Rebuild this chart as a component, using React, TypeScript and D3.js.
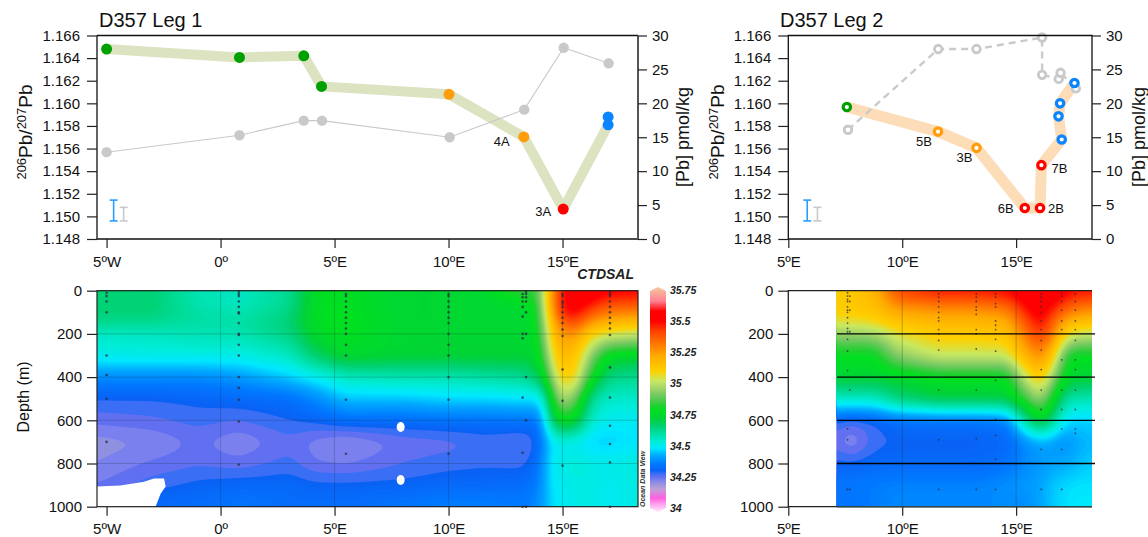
import React, { useEffect, useRef } from 'react';
import * as d3 from 'd3';

// ---- top panels, leg 1
const leg1Lon = [-5, 0.83, 3.65, 4.43, 10.02, 13.3, 15.03, 17.0, 17.0];
const leg1Ratio = [1.1648, 1.16406, 1.1642, 1.1615, 1.1608, 1.15703, 1.15065, 1.1581, 1.1588];
const leg1Group = ['g', 'g', 'g', 'g', 'o', 'o', 'r', 'b', 'b'];
const leg1PbLon = [-5, 0.83, 3.65, 4.45, 10.05, 13.32, 15.05, 17.02];
const leg1Pb = [12.8, 15.3, 17.45, 17.45, 15.0, 19.07, 28.2, 25.9];

// ---- top panels, leg 2
const leg2Lon = [7.57, 11.57, 13.26, 15.38, 16.05, 16.11, 17.0, 16.86, 16.93, 17.56];
const leg2Ratio = [1.15967, 1.1575, 1.15606, 1.15074, 1.15074, 1.15453, 1.1568, 1.15885, 1.16, 1.1618];
const leg2Group = ['g', 'o', 'o', 'r', 'r', 'r', 'b', 'b', 'b', 'b'];
const leg2PbLon = [7.62, 11.58, 13.26, 16.14, 16.14, 16.87, 16.95, 17.62];
const leg2Pb = [16.1, 28.0, 28.0, 29.7, 24.2, 23.6, 24.5, 22.2];

const pointLabels1 = [{ i: 5, t: '4A' }, { i: 6, t: '3A' }];
const pointLabels2 = [{ i: 1, t: '5B' }, { i: 2, t: '3B' }, { i: 3, t: '6B' }, { i: 4, t: '2B' }, { i: 5, t: '7B' }];

// error bars, in ratio units
const errBlue = [1.1496, 1.15144];
const errGray = [1.1496, 1.1508];

const ratioTicks = [1.148, 1.15, 1.152, 1.154, 1.156, 1.158, 1.16, 1.162, 1.164, 1.166];
const pbTicks = [0, 5, 10, 15, 20, 25, 30];
const depthTicks = [0, 200, 400, 600, 800, 1000];
const lonTicks1 = [-5, 0, 5, 10, 15];
const lonTicks2 = [5, 10, 15];
const lonNames: Record<number, string> = { [-5]: '5ºW', 0: '0º', 5: '5ºE', 10: '10ºE', 15: '15ºE' };

// ---- salinity sections
const depths = [0, 50, 100, 150, 200, 300, 400, 500, 600, 700, 800, 900, 1000];
const sectionLon1 = [-5.42, -3, -1, 0.8, 3, 4.2, 5.5, 8, 10, 11.6, 13.3, 13.9, 14.3, 14.6, 15, 15.6, 16.2, 17, 18.31];
const section1 = [
  [34.66, 34.66, 34.58, 34.56, 34.62, 34.78, 34.78, 34.74, 34.74, 34.76, 34.88, 34.82, 35.1, 35.3, 35.5, 35.56, 35.56, 35.54, 35.52],
  [34.66, 34.66, 34.58, 34.56, 34.62, 34.78, 34.78, 34.74, 34.74, 34.74, 34.76, 34.8, 35.1, 35.3, 35.52, 35.56, 35.52, 35.42, 35.42],
  [34.66, 34.66, 34.6, 34.58, 34.64, 34.78, 34.78, 34.74, 34.74, 34.74, 34.74, 34.78, 35.05, 35.28, 35.5, 35.52, 35.4, 35.32, 35.3],
  [34.63, 34.62, 34.6, 34.6, 34.66, 34.78, 34.8, 34.74, 34.74, 34.74, 34.74, 34.78, 35.02, 35.22, 35.35, 35.42, 35.25, 35.18, 35.15],
  [34.55, 34.56, 34.58, 34.58, 34.64, 34.76, 34.78, 34.74, 34.74, 34.74, 34.74, 34.76, 34.98, 35.18, 35.28, 35.25, 35.1, 35.05, 35.02],
  [34.52, 34.52, 34.52, 34.52, 34.56, 34.68, 34.76, 34.74, 34.74, 34.74, 34.74, 34.74, 34.9, 35.12, 35.18, 35.14, 34.95, 34.76, 34.74],
  [34.38, 34.38, 34.38, 34.4, 34.46, 34.5, 34.56, 34.58, 34.58, 34.6, 34.62, 34.68, 34.78, 35.02, 35.12, 35.1, 34.82, 34.64, 34.62],
  [34.3, 34.3, 34.31, 34.32, 34.33, 34.38, 34.45, 34.45, 34.47, 34.47, 34.48, 34.47, 34.55, 34.9, 34.99, 34.92, 34.62, 34.55, 34.55],
  [34.26, 34.27, 34.285, 34.275, 34.3, 34.31, 34.335, 34.33, 34.34, 34.34, 34.35, 34.33, 34.5, 34.72, 34.8, 34.75, 34.55, 34.5, 34.5],
  [34.21, 34.225, 34.255, 34.225, 34.265, 34.235, 34.215, 34.255, 34.262, 34.28, 34.262, 34.3, 34.42, 34.5, 34.5, 34.5, 34.46, 34.46, 34.48],
  [34.225, 34.255, 34.27, 34.26, 34.285, 34.25, 34.245, 34.275, 34.29, 34.295, 34.29, 34.33, 34.44, 34.52, 34.52, 34.54, 34.52, 34.52, 34.53],
  [34.25, 34.29, 34.31, 34.32, 34.32, 34.31, 34.31, 34.31, 34.32, 34.32, 34.33, 34.35, 34.44, 34.5, 34.5, 34.52, 34.52, 34.5, 34.52],
  [34.3, 34.33, 34.33, 34.35, 34.33, 34.33, 34.33, 34.35, 34.37, 34.37, 34.36, 34.38, 34.44, 34.48, 34.5, 34.52, 34.52, 34.5, 34.52],
];
const sectionLon2 = [7.13, 7.7, 8.8, 9.8, 11.6, 13.3, 14.6, 15.4, 16.1, 16.7, 17.2, 17.6, 18.33];
const section2 = [
  [35.12, 35.12, 35.2, 35.42, 35.5, 35.5, 35.52, 35.56, 35.56, 35.56, 35.55, 35.5, 35.5],
  [35.12, 35.12, 35.16, 35.32, 35.36, 35.36, 35.4, 35.54, 35.56, 35.52, 35.42, 35.4, 35.38],
  [35.12, 35.12, 35.15, 35.22, 35.25, 35.25, 35.28, 35.46, 35.56, 35.42, 35.35, 35.28, 35.25],
  [35.05, 35.05, 35.08, 35.14, 35.18, 35.18, 35.2, 35.38, 35.52, 35.32, 35.18, 35.16, 35.14],
  [34.95, 34.95, 34.96, 35.06, 35.12, 35.12, 35.14, 35.32, 35.46, 35.28, 35.08, 35.04, 35.02],
  [34.78, 34.78, 34.78, 34.94, 35.03, 35.03, 35.03, 35.2, 35.3, 35.1, 34.8, 34.78, 34.78],
  [34.74, 34.74, 34.74, 34.74, 34.78, 34.78, 34.78, 35.02, 35.15, 34.92, 34.76, 34.74, 34.74],
  [34.56, 34.56, 34.56, 34.66, 34.72, 34.72, 34.72, 34.85, 34.98, 34.76, 34.6, 34.58, 34.58],
  [34.3, 34.28, 34.3, 34.33, 34.34, 34.34, 34.36, 34.6, 34.78, 34.6, 34.47, 34.46, 34.46],
  [34.265, 34.21, 34.29, 34.3, 34.3, 34.3, 34.31, 34.38, 34.42, 34.4, 34.38, 34.42, 34.44],
  [34.31, 34.31, 34.32, 34.32, 34.32, 34.32, 34.34, 34.38, 34.4, 34.42, 34.42, 34.44, 34.46],
  [34.35, 34.35, 34.36, 34.37, 34.37, 34.37, 34.39, 34.4, 34.42, 34.46, 34.47, 34.48, 34.48],
  [34.34, 34.34, 34.36, 34.38, 34.38, 34.38, 34.38, 34.38, 34.42, 34.46, 34.48, 34.49, 34.49],
];

// bottle samples, [lon, depths]
const samples1: [number, number[]][] = [
  [-5, [10, 25, 50, 100, 300, 390, 500, 700]],
  [0.8, [5, 15, 25, 50, 75, 100, 105, 150, 200, 205, 250, 300, 400, 450, 505, 605, 805]],
  [5.5, [15, 25, 50, 75, 100, 125, 150, 175, 200, 250, 300, 505, 755]],
  [10, [15, 25, 50, 75, 100, 125, 150, 200, 250, 300, 400, 505, 755]],
  [13.25, [15, 30, 50, 75, 120, 200, 220, 495, 750, 1000]],
  [13.4, [5, 15, 30, 50, 100, 200, 400, 600, 1000]],
  [15, [15, 25, 50, 60, 75, 100, 125, 150, 180, 210, 365, 510, 810]],
  [17.08, [5, 15, 25, 50, 75, 100, 125, 150, 175, 205, 355, 495, 625, 710, 795, 1000]],
];
const samples2: [number, number[]][] = [
  [7.6, [10, 25, 40, 50, 75, 90, 100, 125, 150, 175, 190, 225, 280, 370, 640, 690, 920]],
  [7.7, [25, 50, 90, 190, 460, 920]],
  [11.6, [15, 30, 50, 75, 100, 125, 140, 180, 200, 230, 275, 460, 690, 920]],
  [13.25, [15, 30, 50, 75, 90, 110, 180, 200, 270, 460, 685, 920]],
  [14.1, [15, 30, 60, 75, 140, 160, 180, 225, 280, 415, 595, 670, 780, 920]],
  [16.1, [15, 30, 50, 75, 100, 140, 180, 230, 275, 365, 460, 550, 735, 920]],
  [17.0, [10, 25, 50, 90, 140, 180, 320, 460, 550, 640, 735, 920]],
  [17.6, [15, 50, 90, 140, 180, 230, 320, 365, 460, 550, 640, 660]],
];

// no-data patch at the bottom left of leg 1
const holeLon = [-5.42, -4.39, -3.36, -2.92, -2.48, -2.41, -2.63, -2.85, -5.42];
const holeDepth = [907, 902, 884, 869, 869, 907, 940, 1000, 1000];
const gapLon = [7.9, 7.9];
const gapDepth = [631, 876];

// Ocean Data View colour bar
const cbarValues = [33.97, 34.02, 34.08, 34.15, 34.2, 34.225, 34.25, 34.275, 34.3, 34.35, 34.42, 34.48, 34.53, 34.6, 34.66, 34.72, 34.78, 34.82, 34.9, 34.97, 35.02, 35.1, 35.22, 35.3, 35.42, 35.5, 35.58, 35.66, 35.78];
const cbarColors = ['#ffe6fa', '#ffb0f0', '#ff60e0', '#c0a0d8', '#9090e0', '#7a80ee', '#6070f0', '#3a6ef5', '#0a62f5', '#0078ff', '#00a8ff', '#00e8ff', '#00ecd8', '#00dea0', '#00d070', '#00d238', '#00e020', '#20d030', '#70c860', '#a8d868', '#c8e860', '#ffd000', '#ffaa00', '#ff8000', '#ff4000', '#ff0000', '#ff0000', '#ff8090', '#f8c8a0'];
const cbarTicks = [34, 34.25, 34.5, 34.75, 35, 35.25, 35.5, 35.75];

const groupColor: Record<string, string> = { g: '#00a000', o: '#ff9d0a', r: '#ff0000', b: '#0a84ff' };
const GRAY = '#c9c9c9';
const FONT = '"Liberation Sans", Arial, sans-serif';

const salColor = d3.scaleLinear<string>().domain(cbarValues).range(cbarColors).clamp(true);

function Axis({ axis, at }: { axis: any; at: [number, number] }) {
  const ref = useRef<SVGGElement>(null);
  useEffect(() => {
    const g = d3.select(ref.current);
    g.call(axis);
    g.attr('font-family', FONT).attr('font-size', 15);
    g.select('.domain').remove();
    g.selectAll('.tick line').attr('stroke', '#222').attr('stroke-width', 1.2);
    g.selectAll('.tick text').attr('fill', '#111');
  }, [axis]);
  return <g ref={ref} transform={`translate(${at[0]},${at[1]})`} />;
}

function Section({ lons, values, x, y, id }: any) {
  const ref = useRef<SVGGElement>(null);
  const xs = x(lons[0]);
  const xe = x(lons[lons.length - 1]);
  const [y0, y1] = y.range();
  useEffect(() => {
    const step = 2;
    const w = Math.ceil((xe - xs) / step) + 1;
    const h = Math.ceil((y1 - y0) / step) + 1;
    const iLon = d3.scaleLinear().domain(lons).range(lons.map((_: any, i: number) => i)).clamp(true);
    const iDep = d3.scaleLinear().domain(depths).range(depths.map((_, i) => i)).clamp(true);
    const grid = new Float64Array(w * h);
    for (let r = 0; r < h; r++) {
      const fy = iDep(y.invert(y0 + r * step));
      const jy = Math.min(Math.floor(fy), depths.length - 2);
      const ty = fy - jy;
      for (let c = 0; c < w; c++) {
        const fx = iLon(x.invert(xs + c * step));
        const jx = Math.min(Math.floor(fx), lons.length - 2);
        const tx = fx - jx;
        const top = values[jy][jx] * (1 - tx) + values[jy][jx + 1] * tx;
        const bot = values[jy + 1][jx] * (1 - tx) + values[jy + 1][jx + 1] * tx;
        grid[r * w + c] = top * (1 - ty) + bot * ty;
      }
    }
    d3.blur2({ data: grid, width: w, height: h }, 2.5);
    // the purple end of the ODV field shows as bands, the rest is smooth
    const levels = d3.range(33.95, 34.3, 0.025).concat(d3.range(34.3, 35.7, 0.008));
    const contours = d3.contours().size([w, h]).smooth(true).thresholds(levels)(grid as any);
    const g = d3.select(ref.current);
    g.attr('transform', `translate(${xs - step / 2},${y0 - step / 2}) scale(${step})`);
    g.selectAll('path')
      .data(contours)
      .join('path')
      .attr('d', d3.geoPath() as any)
      .attr('fill', (d: any) => salColor(d.value));
  }, [lons, values, x, y]);
  return (
    <>
      <clipPath id={id}>
        <rect x={xs} y={y0} width={xe - xs} height={y1 - y0} />
      </clipPath>
      <g clipPath={`url(#${id})`}>
        <g ref={ref} />
      </g>
    </>
  );
}

function Dots({ data, x, y, r }: any) {
  return (
    <g fill="#2b2b40" fillOpacity={0.75}>
      {data.flatMap(([lon, ds]: [number, number[]]) =>
        ds.map((d, i) => <circle key={lon + '-' + i} cx={x(lon)} cy={y(d)} r={r} />)
      )}
    </g>
  );
}

function ErrBar({ x, y, lon, range, color }: any) {
  const px = x(lon);
  return (
    <g stroke={color} strokeWidth={1.6} fill="none">
      <line x1={px} x2={px} y1={y(range[0])} y2={y(range[1])} />
      <line x1={px - 4} x2={px + 4} y1={y(range[0])} y2={y(range[0])} />
      <line x1={px - 4} x2={px + 4} y1={y(range[1])} y2={y(range[1])} />
    </g>
  );
}

function RatioLabel({ x, y }: { x: number; y: number }) {
  return (
    <text transform={`translate(${x},${y}) rotate(-90)`} textAnchor="middle" fontSize={19} fill="#111">
      <tspan fontSize={13} dy={-6}>206</tspan>
      <tspan dy={6}>Pb/</tspan>
      <tspan fontSize={13} dy={-6}>207</tspan>
      <tspan dy={6}>Pb</tspan>
    </text>
  );
}

function App() {
  const H_TOP = [239, 35.5];
  const H_BOT = [290.7, 506.7];
  const ratioY = d3.scaleLinear().domain([1.148, 1.166]).range(H_TOP);
  const pbY = d3.scaleLinear().domain([0, 30]).range(H_TOP);
  const depthY = d3.scaleLinear().domain([0, 1000]).range(H_BOT);
  const x1 = d3.scaleLinear().domain([-5.42, 18.31]).range([97, 638]);
  const x2 = d3.scaleLinear().domain([5, 18.33]).range([788.3, 1092]);
  const cbarY = d3.scaleLinear().domain([34, 35.75]).range([508, 290]);

  const line = d3.line<[number, number]>();
  const pts = (xs: number[], ys: number[], sx: any, sy: any) =>
    xs.map((v, i) => [sx(v), sy(ys[i])] as [number, number]);

  const lonFmt = (d: any) => lonNames[d];
  const ratioAxis = () =>
    d3.axisLeft(ratioY).tickValues(ratioTicks).tickFormat(d3.format('.3f') as any).tickSize(10).tickPadding(7);
  const depthAxis = () =>
    d3.axisLeft(depthY).tickValues(depthTicks).tickFormat(d3.format('d') as any).tickSize(10).tickPadding(5);
  const pbAxis = () => d3.axisRight(pbY).tickValues(pbTicks).tickSize(9).tickPadding(5);
  const lonAxis = (sx: any, ticks: number[]) =>
    d3.axisBottom(sx).tickValues(ticks).tickFormat(lonFmt).tickSize(9).tickPadding(8);

  const grat = [200, 400, 600, 800];
  const stops = cbarValues.map((v, i) => ({
    off: (cbarY(v) - 287) / (512 - 287),
    c: cbarColors[i],
  })).reverse();

  const labelOffset1: Record<string, [number, number]> = { '4A': [-22, 9], '3A': [-20, 7] };
  const labelOffset2: Record<string, [number, number]> = {
    '5B': [-14, 14], '3B': [-12, 14], '6B': [-19, 5], '2B': [16, 5], '7B': [18, 8],
  };

  return (
    <svg width={1148} height={537} style={{ position: 'absolute', left: 0, top: 0 }} fontFamily={FONT}>
      <rect width={1148} height={537} fill="#fff" />

      {/* Leg 1 top */}
      <text x={99} y={27} fontSize={20} fill="#111">D357 Leg 1</text>
      <path d={line(pts(leg1Lon.slice(0, 8), leg1Ratio.slice(0, 8), x1, ratioY))!} fill="none" stroke="#dce3c1" strokeWidth={10} strokeLinejoin="bevel" />
      <path d={line(pts(leg1PbLon, leg1Pb, x1, pbY))!} fill="none" stroke={GRAY} strokeWidth={1.1} />
      {leg1PbLon.map((v, i) => <circle key={i} cx={x1(v)} cy={pbY(leg1Pb[i])} r={5.2} fill={GRAY} />)}
      {leg1Lon.map((v, i) => <circle key={i} cx={x1(v)} cy={ratioY(leg1Ratio[i])} r={5.5} fill={groupColor[leg1Group[i]]} />)}
      {pointLabels1.map((l) => (
        <text key={l.t} x={x1(leg1Lon[l.i]) + labelOffset1[l.t][0]} y={ratioY(leg1Ratio[l.i]) + labelOffset1[l.t][1]} fontSize={13} textAnchor="middle" fill="#111">{l.t}</text>
      ))}
      <ErrBar x={x1} y={ratioY} lon={-4.69} range={errBlue} color="#2a9dff" />
      <ErrBar x={x1} y={ratioY} lon={-4.25} range={errGray} color={GRAY} />
      <path d="M97,35.5H638M97,35.5V239H638" fill="none" stroke="#111" strokeWidth={1.3} />
      <line x1={638} x2={638} y1={35.5} y2={239} stroke="#555" strokeWidth={2} />
      <Axis axis={ratioAxis()} at={[97, 0]} />
      <Axis axis={pbAxis()} at={[638, 0]} />
      <Axis axis={lonAxis(x1, lonTicks1)} at={[0, 239]} />
      <RatioLabel x={32} y={132} />
      <text transform="translate(689,137) rotate(-90)" textAnchor="middle" fontSize={18} fill="#111">[Pb] pmol/kg</text>

      {/* Leg 2 top */}
      <text x={780} y={27} fontSize={20} fill="#111">D357 Leg 2</text>
      <path d={line(pts(leg2Lon, leg2Ratio, x2, ratioY))!} fill="none" stroke="#fddcb8" strokeWidth={11} strokeLinejoin="bevel" />
      <path d={line(pts(leg2PbLon, leg2Pb, x2, pbY))!} fill="none" stroke="#c6cbcb" strokeWidth={2.4} strokeDasharray="7,5" />
      {leg2PbLon.map((v, i) => <circle key={i} cx={x2(v)} cy={pbY(leg2Pb[i])} r={3.8} fill="#fff" stroke={GRAY} strokeWidth={2.8} />)}
      {leg2Lon.map((v, i) => <circle key={i} cx={x2(v)} cy={ratioY(leg2Ratio[i])} r={3.7} fill="#fff" stroke={groupColor[leg2Group[i]]} strokeWidth={3.2} />)}
      {pointLabels2.map((l) => (
        <text key={l.t} x={x2(leg2Lon[l.i]) + labelOffset2[l.t][0]} y={ratioY(leg2Ratio[l.i]) + labelOffset2[l.t][1]} fontSize={13} textAnchor="middle" fill="#111">{l.t}</text>
      ))}
      <ErrBar x={x2} y={ratioY} lon={5.83} range={errBlue} color="#2a9dff" />
      <ErrBar x={x2} y={ratioY} lon={6.28} range={errGray} color={GRAY} />
      <path d="M788.3,239V35.5H1092V239Z" fill="none" stroke="#111" strokeWidth={1.3} />
      <Axis axis={ratioAxis()} at={[788.3, 0]} />
      <Axis axis={pbAxis()} at={[1092, 0]} />
      <Axis axis={lonAxis(x2, lonTicks2)} at={[0, 239]} />
      <RatioLabel x={724} y={132} />
      <text transform="translate(1145,137) rotate(-90)" textAnchor="middle" fontSize={18} fill="#111">[Pb] pmol/kg</text>

      {/* Leg 1 section */}
      <Section lons={sectionLon1} values={section1} x={x1} y={depthY} id="clipSec1" />
      <path
        d={d3.line<number>().x((v) => x1(v)).y((_, i) => depthY(holeDepth[i]))(holeLon)!}
        fill="#fff"
      />
      {gapLon.map((v, i) => <ellipse key={i} cx={x1(v)} cy={depthY(gapDepth[i])} rx={4} ry={5} fill="#fff" />)}
      <g stroke="#1a2a2a" strokeOpacity={0.28} strokeWidth={0.8}>
        {grat.map((d) => <line key={d} x1={97} x2={638} y1={depthY(d)} y2={depthY(d)} />)}
        {lonTicks1.slice(1).map((d) => <line key={d} x1={x1(d)} x2={x1(d)} y1={290.7} y2={506.7} />)}
      </g>
      <Dots data={samples1} x={x1} y={depthY} r={1.3} />
      <rect x={97} y={290.7} width={541} height={216} fill="none" stroke="#222" strokeWidth={1.2} />
      <Axis axis={depthAxis()} at={[97, 0]} />
      <Axis axis={lonAxis(x1, lonTicks1)} at={[0, 506.7]} />
      <text transform="translate(29,397) rotate(-90)" textAnchor="middle" fontSize={16} fill="#111">Depth (m)</text>

      {/* colour bar */}
      <text x={634} y={279} textAnchor="end" fontSize={14} fontWeight="bold" fontStyle="italic" fill="#222">CTDSAL</text>
      <linearGradient id="cbar" x1="0" x2="0" y1="0" y2="1">
        {stops.map((s, i) => <stop key={i} offset={s.off} stopColor={s.c} />)}
      </linearGradient>
      <path d="M650,291L658,287L666,291V508L658,512L650,508Z" fill="url(#cbar)" />
      {cbarTicks.map((v) => (
        <text key={v} x={670} y={cbarY(v) + 4} fontSize={10.5} fontWeight="bold" fontStyle="italic" fill="#222">{v}</text>
      ))}
      <text transform="translate(645,507) rotate(-90)" fontSize={7} fontWeight="bold" fontStyle="italic" fill="#333">Ocean Data View</text>

      {/* Leg 2 section */}
      <Section lons={sectionLon2} values={section2} x={x2} y={depthY} id="clipSec2" />
      <g stroke="#1a2a2a" strokeOpacity={0.4} strokeWidth={0.7}>
        {lonTicks2.slice(1).map((d) => <line key={d} x1={x2(d)} x2={x2(d)} y1={290.7} y2={506.7} />)}
      </g>
      <Dots data={samples2} x={x2} y={depthY} r={0.9} />
      <g stroke="#000" strokeWidth={1.3}>
        {grat.map((d) => <line key={d} x1={837} x2={1095} y1={depthY(d)} y2={depthY(d)} />)}
      </g>
      <path d="M1092,290.7H788.3V506.7H1092" fill="none" stroke="#222" strokeWidth={1.3} />
      <line x1={837} x2={1092} y1={506.7} y2={506.7} stroke="#2a4a4a" strokeWidth={1.6} />
      <Axis axis={depthAxis()} at={[788.3, 0]} />
      <Axis axis={lonAxis(x2, lonTicks2)} at={[0, 506.7]} />
    </svg>
  );
}

export default App;
